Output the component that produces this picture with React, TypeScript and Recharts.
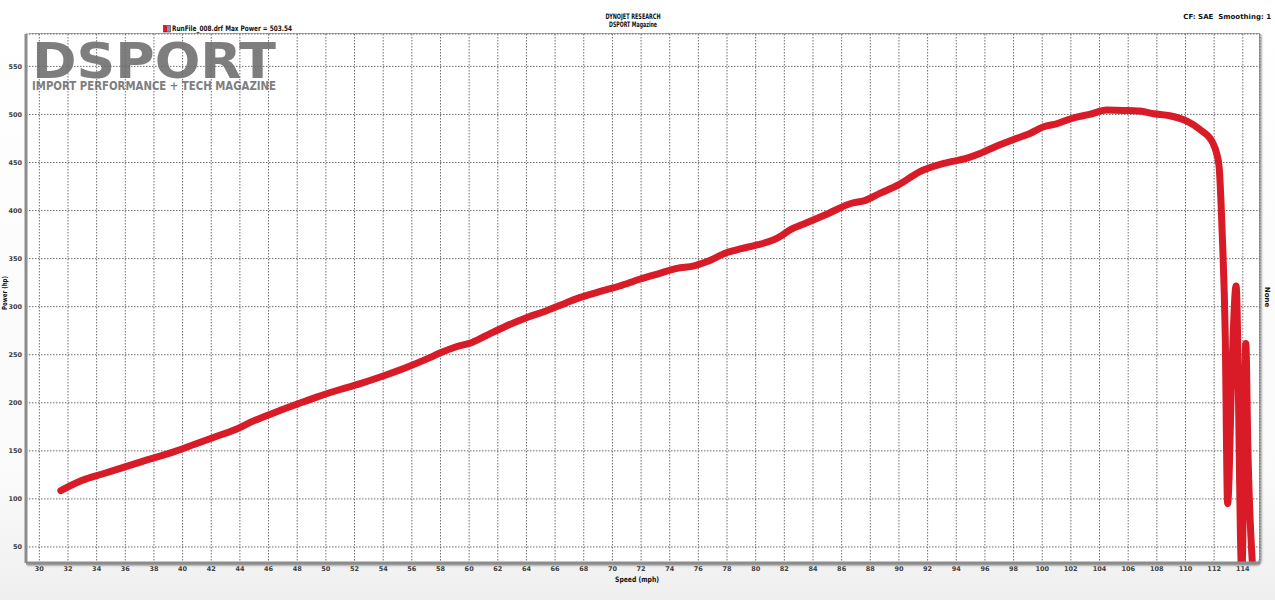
import { CartesianGrid, Line, LineChart, XAxis, YAxis } from "recharts"

// dyno pull
const speed = [
  31.5, 33.0, 34.4, 36.1, 37.7, 39.1, 40.8, 42.2, 43.6, 45.0, 46.4, 48.0, 49.4,
  51.0, 52.4, 54.0, 55.7, 57.1, 58.0, 59.1, 60.2, 61.4, 62.6, 64.0, 65.4, 66.8,
  67.7, 69.1, 70.5, 71.9, 73.3, 74.5, 75.7, 76.6, 78.0, 79.0, 80.1, 81.5, 82.5,
  83.6, 85.0, 86.7, 87.6, 88.7, 90.0, 91.4, 93.3, 94.7, 95.6, 96.8, 98.0, 99.1,
  100.1, 101.0, 102.2, 103.3, 104.5, 105.7, 106.8, 107.8, 108.9, 110.1, 111.0,
  111.9, 112.2, 112.35, 112.56, 112.77, 112.94, 113.25, 113.53, 113.93, 114.21,
  114.35, 114.7,
]
const power = [
  108.6, 119.3, 125.9, 133.8, 141.4, 147.6, 156.6, 164.1, 171.7, 181.4, 189.7,
  198.6, 206.2, 213.8, 220, 227.9, 237.2, 245.9, 252, 258.3, 262.8, 271.5, 279.9,
  288.5, 295.8, 304.2, 309.4, 315.6, 321.5, 328.5, 334.7, 339.9, 342.4, 346.9,
  356.3, 360.4, 364.2, 371.2, 380.6, 387.5, 396.5, 407.6, 410.4, 418.1, 427,
  440, 449.7, 454.2, 459, 467, 474, 479.9, 487.2, 490.3, 496.5, 500, 504.5,
  504.2, 503.5, 500.7, 498.6, 493, 484.4, 470.5, 458, 445, 377, 273, 95, 240,
  321.5, 20, 261.8, 155, 25,
]

const xTicks = [
  30, 32, 34, 36, 38, 40, 42, 44, 46, 48, 50, 52, 54, 56, 58, 60, 62, 64, 66,
  68, 70, 72, 74, 76, 78, 80, 82, 84, 86, 88, 90, 92, 94, 96, 98, 100, 102, 104,
  106, 108, 110, 112, 114,
]
const yTicks = [50, 100, 150, 200, 250, 300, 350, 400, 450, 500, 550]

const xMinor = xTicks.flatMap((t) => [t, t + 0.5, t + 1, t + 1.5])
const yMinor = yTicks.flatMap((t) => [t - 12.5, t, t + 12.5, t + 25, t + 37.5])

const data = speed.map((s, i) => ({ speed: s, power: power[i] }))

const tickStyle = {
  fontSize: 6.5,
  fontWeight: 700,
  fill: "#404040",
  fontFamily: "DejaVu Sans",
}

export default function App() {
  return (
    <div
      style={{
        position: "absolute",
        left: 0,
        top: 0,
        width: 1275,
        height: 600,
        overflow: "hidden",
        background: "linear-gradient(to bottom, #ffffff 0%, #fafafa 80%, #efefef 100%)",
        fontFamily: "DejaVu Sans",
      }}
    >
      {/* plot frame */}
      <div
        style={{
          position: "absolute",
          left: 25,
          top: 33,
          width: 1234,
          height: 530,
          background: "#fff",
          borderTop: "1px solid #a8a8a8",
          borderRight: "1px solid #9a9a9a",
          borderTopLeftRadius: 6,
          borderBottomRightRadius: 6,
          boxShadow: "2px 2px 2px rgba(0,0,0,0.3)",
        }}
      />
      {/* watermark */}
      <svg width={1275} height={600} style={{ position: "absolute", left: 0, top: 0 }}>
        <text
          x={32}
          y={77.5}
          fontSize={50}
          fontWeight={900}
          fontFamily="DejaVu Sans"
          fill="#7e7e7e"
          textLength={244}
          lengthAdjust="spacingAndGlyphs"
        >
          DSPORT
        </text>
        <text
          x={32}
          y={90}
          fontSize={12.5}
          fontWeight={900}
          fontFamily="DejaVu Sans"
          fill="#7e7e7e"
          textLength={244}
          lengthAdjust="spacingAndGlyphs"
        >
          IMPORT PERFORMANCE + TECH MAGAZINE
        </text>
      </svg>
      <div style={{ position: "absolute", left: 0, top: 0 }}>
        <LineChart
          width={1275}
          height={600}
          data={data}
          margin={{ top: 34, right: 15, bottom: 0, left: 0 }}
        >
          <CartesianGrid stroke="#6f6f6f" strokeDasharray="1.5 1.5" />
          <XAxis
            xAxisId="minor"
            dataKey="speed"
            type="number"
            domain={[29.07, 115.2]}
            allowDataOverflow
            ticks={xMinor}
            height={0}
            tick={false}
            tickSize={3}
            axisLine={false}
            tickLine={{ stroke: "#444" }}
          />
          <XAxis
            dataKey="speed"
            type="number"
            domain={[29.07, 115.2]}
            allowDataOverflow
            ticks={xTicks}
            interval={0}
            height={37}
            tick={tickStyle}
            tickSize={2}
            tickMargin={1}
            tickLine={false}
            axisLine={{ stroke: "#8c8c8c", strokeWidth: 3 }}
          />
          <YAxis
            yAxisId="minor"
            type="number"
            domain={[33.3, 583.7]}
            allowDataOverflow
            ticks={yMinor}
            width={0}
            tick={false}
            tickSize={3}
            axisLine={false}
            tickLine={{ stroke: "#444" }}
          />
          <YAxis
            type="number"
            domain={[33.3, 583.7]}
            allowDataOverflow
            ticks={yTicks}
            interval={0}
            width={26}
            tick={tickStyle}
            tickSize={2}
            tickMargin={2}
            tickLine={false}
            axisLine={{ stroke: "#8c8c8c", strokeWidth: 3 }}
          />
          <Line
            dataKey="power"
            type="monotone"
            stroke="#d81b27"
            strokeWidth={7}
            strokeLinejoin="round"
            strokeLinecap="round"
            dot={false}
            isAnimationActive={false}
          />
        </LineChart>
      </div>
      {/* header, legend and axis titles */}
      <svg
        width={1275}
        height={600}
        style={{ position: "absolute", left: 0, top: 0, pointerEvents: "none" }}
        fontFamily="DejaVu Sans"
        fontWeight={700}
        fill="#111"
      >
        <text x={633} y={19} fontSize={7.5} textAnchor="middle" textLength={55} lengthAdjust="spacingAndGlyphs">
          DYNOJET RESEARCH
        </text>
        <text x={633} y={27} fontSize={7.5} textAnchor="middle" textLength={48} lengthAdjust="spacingAndGlyphs">
          DSPORT Magazine
        </text>
        <text x={1271} y={19} fontSize={7} textAnchor="end">
          {"CF: SAE\u00a0\u00a0Smoothing: 1"}
        </text>
        <rect x={163.5} y={25.5} width={3.5} height={6.5} fill="#e3141f" />
        <rect x={167} y={25.5} width={3.5} height={6.5} fill="#8090cc" />
        <rect x={163.5} y={25.5} width={7} height={6.5} fill="none" stroke="#333" strokeWidth={0.6} />
        <text x={172} y={31} fontSize={7.5} textLength={120} lengthAdjust="spacingAndGlyphs">
          RunFile_008.drf Max Power = 503.54
        </text>
        <text x={637} y={582} fontSize={7.5} textAnchor="middle" textLength={44} lengthAdjust="spacingAndGlyphs">
          Speed (mph)
        </text>
        <text
          x={0}
          y={0}
          fontSize={7}
          textAnchor="middle"
          transform="translate(7 293) rotate(-90)"
          textLength={34}
          lengthAdjust="spacingAndGlyphs"
        >
          Power (hp)
        </text>
        <text x={0} y={0} fontSize={7} textAnchor="middle" transform="translate(1265 297) rotate(90)">
          None
        </text>
      </svg>
    </div>
  )
}
